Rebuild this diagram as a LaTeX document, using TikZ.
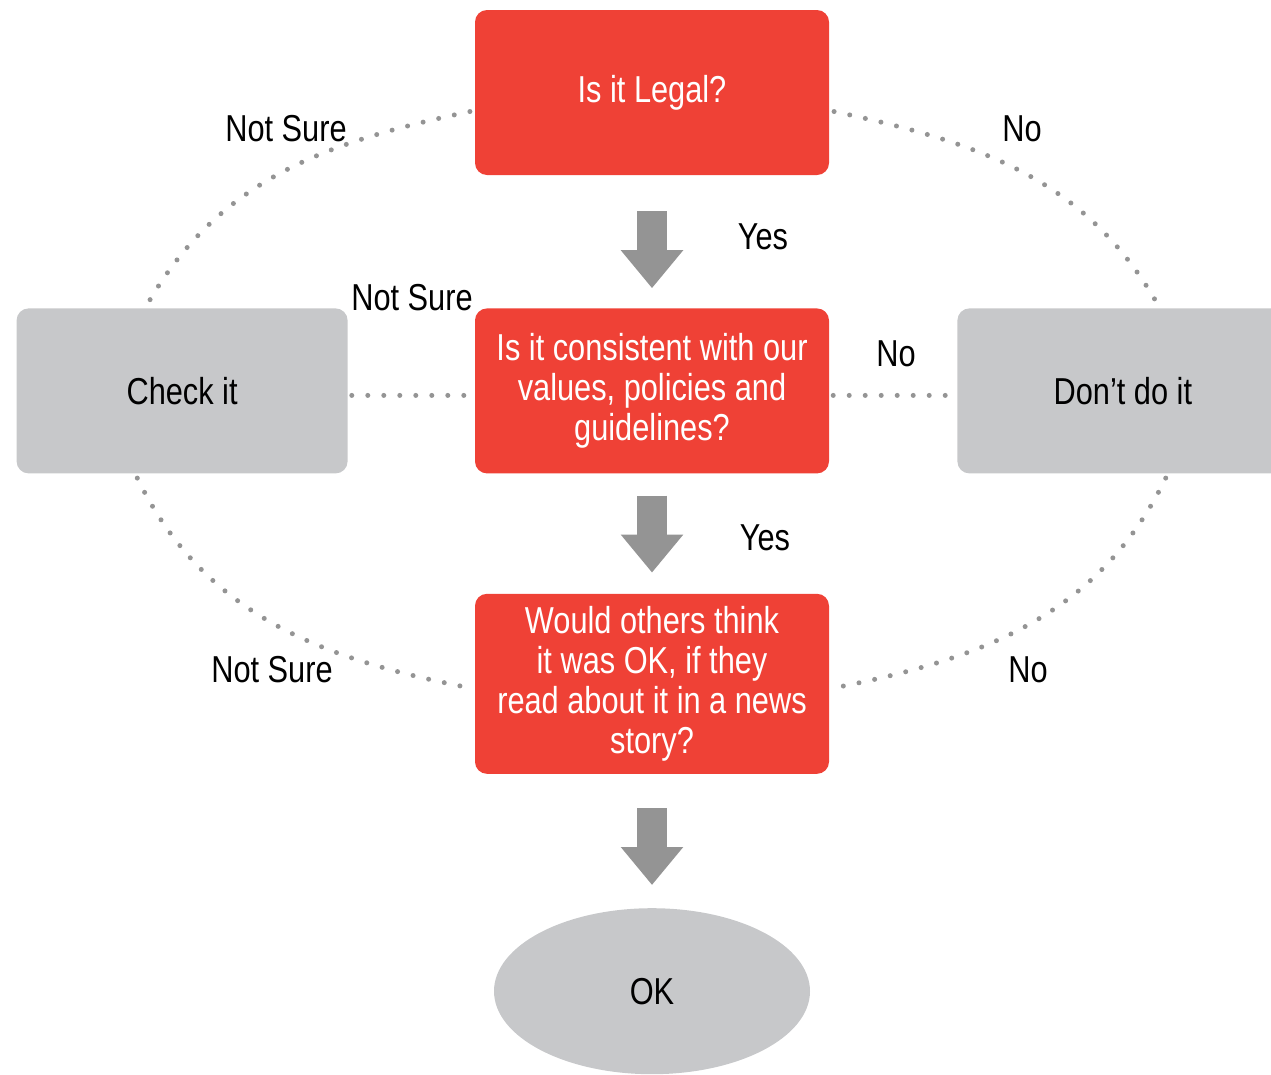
\documentclass[tikz,border=0pt]{standalone}
\usepackage{fontspec}
\setmainfont{Liberation Sans}[FakeStretch=0.82]
\usetikzlibrary{shapes.geometric, arrows.meta, positioning, calc}
\definecolor{boxred}{HTML}{EF4136}
\definecolor{boxgray}{HTML}{C7C8CA}
\definecolor{dotgray}{HTML}{949494}
\newcommand{\flowfont}{\fontsize{37.5}{40}\selectfont}
\tikzset{
	question/.style={rectangle, fill=boxred, text=white, rounded corners=12pt, minimum width=354pt, minimum height=165pt, align=center, inner sep=0pt},
	outcome/.style={rectangle, fill=boxgray, rounded corners=12pt, minimum width=331pt, minimum height=165pt, align=center},
	dotline/.style={draw=dotgray, line width=5pt, line cap=round, dash pattern=on 0pt off 16pt},
	bigarrow/.style={draw=dotgray, line width=30pt, -{Triangle[width=60pt, length=38pt]}}
}

\begin{document}
\begin{tikzpicture}[x=1pt, y=-1pt, font=\flowfont]
    \useasboundingbox (0,0) rectangle (1271,1074);
    % Nodes
    \node[question] (legal) at (652,92.5) {Is it Legal?};
    \node[question, below=133pt of legal] (values) {Is it consistent with our\\values, policies and\\guidelines?};
    \node[question, minimum height=180pt, below=120pt of values] (others) {Would others think\\it was OK, if they\\read about it in a news\\story?};
    \node[outcome, left=127pt of values] (check) {Check it};
    \node[outcome, right=128pt of values] (dont) {Don’t do it};
    \node[ellipse, fill=boxgray, minimum width=316pt, minimum height=166pt, below=134pt of others] (ok) {OK};
    % Arrows
    \draw[bigarrow, shorten <=36pt, shorten >=20pt] (legal) -- (values);
    \draw[bigarrow, shorten <=22pt, shorten >=21pt] (values) -- (others);
    \draw[bigarrow, shorten <=34pt, shorten >=23pt] (others) -- (ok);
    % Dotted connectors
    \draw[dotline, shorten <=5pt, shorten >=6pt] ($(legal.west)+(0,18)$) to[out=192, in=60] ($(check.north)+(-37,0)$);
    \draw[dotline, shorten <=5pt, shorten >=6pt] ($(legal.east)+(0,18)$) to[out=-12, in=120] ($(dont.north)+(37,0)$);
    \draw[dotline, shorten <=5pt, shorten >=5pt] ($(check.south)+(-47,0)$) to[out=-64, in=169] ($(others.west)+(0,5)$);
    \draw[dotline, shorten <=5pt, shorten >=5pt] ($(dont.south)+(45,0)$) to[out=244, in=11] ($(others.east)+(0,5)$);
    \draw[dotline, shorten <=4pt, shorten >=5pt] ($(check.east)+(0,4.5)$) -- ($(values.west)+(0,4.5)$);
    \draw[dotline, shorten <=4pt, shorten >=5pt] ($(values.east)+(0,4.5)$) -- ($(dont.west)+(0,4.5)$);
    % Labels
    \node (notsure1) at (286,129) {Not Sure};
    \node (no1) at (1022,129) {No};
    \node (yes1) at (763,237) {Yes};
    \node (notsure2) at (412,298) {Not Sure};
    \node (no2) at (896,354) {No};
    \node (yes2) at (765,538) {Yes};
    \node (notsure3) at (272,670) {Not Sure};
    \node (no3) at (1028,670) {No};
\end{tikzpicture}
\end{document}
